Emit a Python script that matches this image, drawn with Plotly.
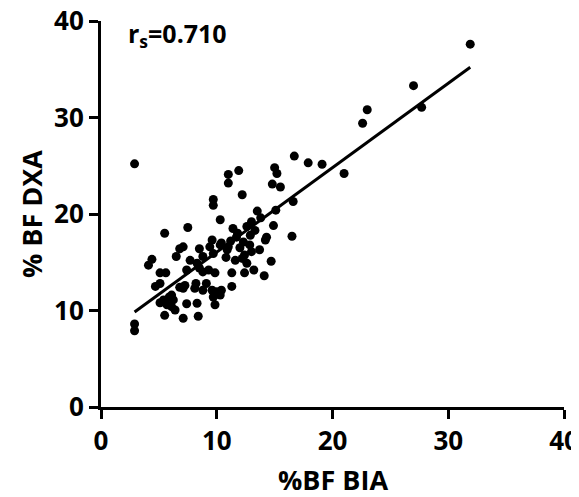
import plotly.graph_objects as go

# %BF BIA (x) and %BF DXA (y)
bia = [2.9, 2.9, 2.9, 4.1, 4.4, 4.7, 5.1, 5.1, 5.4, 5.1, 5.6, 5.5, 5.5, 5.9, 6.25,
       6.1, 6.4, 6.5, 6.8, 6.8, 7.25, 7.4, 7.4, 7.1, 7.5, 7.7, 7.1, 8.2, 8.4, 8.3,
       8.5, 8.8, 8.8, 8.8, 9.3, 9.1, 9.6, 9.7, 9.85, 9.4, 9.7, 9.6, 9.85, 9.7, 9.7,
       10.3, 10.3, 10.9, 10.4, 11.0, 10.4, 10.0, 10.3, 11.3, 11.3, 11.6, 12.2, 12.4,
       12.4, 13.2, 12.85, 11.7, 12.3, 12.9, 12.6, 13.0, 11.4, 12.2, 11.0, 11.0, 11.9,
       13.5, 13.7, 13.0, 14.2, 14.1, 14.7, 14.3, 14.9, 15.1, 14.8, 15.5, 15.0, 15.2,
       16.6, 16.5, 16.7, 17.9, 19.1, 21.0, 22.6, 23.0, 27.0, 27.7, 31.9,
       11.8, 12.0, 13.3, 10.8, 11.2, 12.6, 13.8, 8.5, 7.1, 8.1, 5.4, 6.1, 5.7, 8.3]
dxa = [25.2, 8.6, 7.9, 14.7, 15.3, 12.5, 12.8, 10.8, 10.9, 13.9, 13.9, 18.0, 9.5, 11.4, 11.1,
       10.4, 10.05, 15.6, 16.4, 12.4, 12.6, 14.2, 10.7, 9.2, 18.6, 15.2, 16.6, 12.8, 9.4, 14.9,
       16.4, 12.1, 14.0, 15.6, 14.2, 12.8, 12.1, 11.4, 10.6, 16.6, 15.9, 17.3, 13.9, 21.5, 20.9,
       19.4, 16.8, 16.3, 17.0, 16.6, 12.1, 11.95, 11.6, 12.5, 13.9, 15.2, 15.4, 15.75,
       13.9, 14.2, 16.8, 17.6, 17.1, 17.8, 18.7, 19.2, 18.5, 22.0, 24.1, 23.2, 24.5,
       20.3, 16.3, 16.1, 17.3, 13.6, 15.1, 17.6, 18.8, 20.4, 23.1, 22.8, 24.8, 24.2,
       21.3, 17.7, 26.0, 25.3, 25.15, 24.2, 29.4, 30.8, 33.3, 31.05, 37.6,
       18.0, 16.5, 18.3, 15.5, 17.2, 14.9, 19.6, 14.4, 12.3, 12.3, 11.1, 11.6, 10.6, 10.75]

# regression line
fit_x = [2.9, 31.9]
fit_slope = 0.875
fit_intercept = 7.3
fit_y = [fit_intercept + fit_slope * v for v in fit_x]

ticks = [0, 10, 20, 30, 40]
font_family = "Open Sans"

fig = go.Figure()
fig.add_trace(go.Scatter(x=bia, y=dxa, mode="markers",
                         marker=dict(color="black", size=9), cliponaxis=False,
                         showlegend=False))
fig.add_trace(go.Scatter(x=fit_x, y=fit_y, mode="lines",
                         line=dict(color="black", width=3), showlegend=False))

axis_common = dict(range=[0, 40], tickvals=ticks, ticks="outside", ticklen=9,
                   tickwidth=3, tickcolor="black", showline=True, linewidth=3,
                   linecolor="black", showgrid=False, zeroline=False, automargin=False,
                   ticklabeloverflow="allow",
                   tickfont=dict(family=font_family, size=26, color="black", weight="bold"))

fig.update_xaxes(**axis_common)
fig.update_yaxes(**axis_common)

fig.add_annotation(x=0.5, y=0, xref="paper", yref="paper", xanchor="center", yanchor="middle",
                   yshift=-72, text="<b>%BF BIA</b>", showarrow=False,
                   font=dict(family=font_family, size=27, color="black"))
fig.add_annotation(x=0, y=0.5, xref="paper", yref="paper", xanchor="center", yanchor="middle",
                   xshift=-70, textangle=-90, text="<b>% BF DXA</b>", showarrow=False,
                   font=dict(family=font_family, size=27, color="black"))
fig.add_annotation(x=2.2, y=38.6, xref="x", yref="y", xanchor="left", yanchor="middle",
                   text="<b>r<sub>s</sub>=0.710</b>", showarrow=False,
                   font=dict(family=font_family, size=25, color="black"))

# page body adds an 8 px offset, so margins are shifted to keep the plot area in place
fig.update_layout(width=579, height=489, plot_bgcolor="white", paper_bgcolor="white",
                  margin=dict(l=93, r=23, t=13, b=90))

fig.write_html("out.html")
